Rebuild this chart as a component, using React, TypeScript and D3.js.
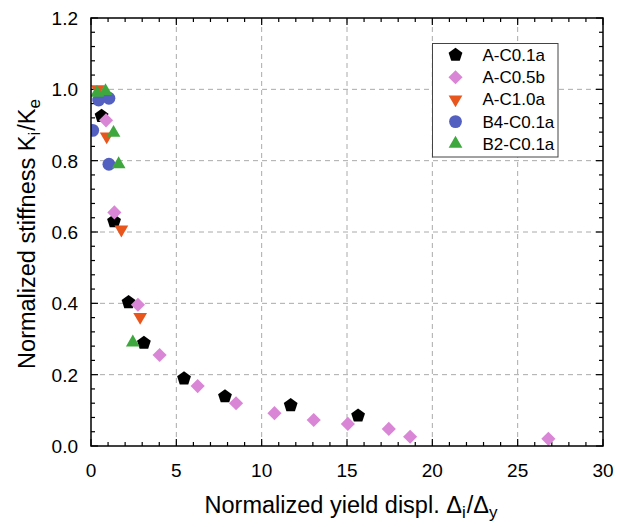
import { useMemo } from 'react';
import * as d3 from 'd3';

// Series values
const seriesNames = ['A-C0.1a', 'A-C0.5b', 'A-C1.0a', 'B4-C0.1a', 'B2-C0.1a'];

const aC01aX = [0.62, 1.35, 2.2, 3.1, 5.45, 7.85, 11.7, 15.65];
const aC01aY = [0.925, 0.63, 0.403, 0.289, 0.189, 0.139, 0.114, 0.085];

const aC05bX = [0.88, 1.37, 2.75, 4.02, 6.25, 8.5, 10.75, 13.05, 15.05, 17.45, 18.7, 26.8];
const aC05bY = [0.913, 0.655, 0.396, 0.255, 0.168, 0.12, 0.092, 0.073, 0.062, 0.048, 0.026, 0.02];

const aC10aX = [0.4, 0.92, 1.78, 2.88];
const aC10aY = [1.0, 0.868, 0.607, 0.362];

const b4C01aX = [0.1, 0.45, 1.05, 1.05];
const b4C01aY = [0.885, 0.97, 0.975, 0.79];

const b2C01aX = [0.35, 0.85, 1.32, 1.62, 2.45];
const b2C01aY = [0.99, 0.995, 0.878, 0.79, 0.29];

const xTicks = [0, 5, 10, 15, 20, 25, 30];
const yTicks = [0.0, 0.2, 0.4, 0.6, 0.8, 1.0, 1.2];

const W = 630;
const H = 527;
const margin = { top: 18, right: 27, bottom: 81, left: 91 };
const font = 'Arial, "Liberation Sans", Helvetica, sans-serif';

// custom marker shapes
const pentagon = {
  draw(ctx: any, size: number) {
    const r = Math.sqrt(size / 2.378);
    for (let i = 0; i < 5; i++) {
      const a = -Math.PI / 2 + (i * 2 * Math.PI) / 5;
      const px = r * Math.cos(a);
      const py = r * Math.sin(a);
      if (i === 0) ctx.moveTo(px, py);
      else ctx.lineTo(px, py);
    }
    ctx.closePath();
  },
};

const squareDiamond = {
  draw(ctx: any, size: number) {
    const r = Math.sqrt(size / 2);
    ctx.moveTo(0, -r);
    ctx.lineTo(r, 0);
    ctx.lineTo(0, r);
    ctx.lineTo(-r, 0);
    ctx.closePath();
  },
};

const triUp = {
  draw(ctx: any, size: number) {
    const s = Math.sqrt(size / 0.433);
    const h = (s * Math.sqrt(3)) / 2;
    ctx.moveTo(0, -h * 2 / 3);
    ctx.lineTo(s / 2, h / 3);
    ctx.lineTo(-s / 2, h / 3);
    ctx.closePath();
  },
};

const triDown = {
  draw(ctx: any, size: number) {
    const s = Math.sqrt(size / 0.433);
    const h = (s * Math.sqrt(3)) / 2;
    ctx.moveTo(0, h * 2 / 3);
    ctx.lineTo(s / 2, -h / 3);
    ctx.lineTo(-s / 2, -h / 3);
    ctx.closePath();
  },
};

const series = [
  { name: seriesNames[0], xs: aC01aX, ys: aC01aY, color: '#000000', type: pentagon, size: 125 },
  { name: seriesNames[1], xs: aC05bX, ys: aC05bY, color: '#DA86D6', type: squareDiamond, size: 100 },
  { name: seriesNames[2], xs: aC10aX, ys: aC10aY, color: '#E8561E', type: triDown, size: 82 },
  { name: seriesNames[3], xs: b4C01aX, ys: b4C01aY, color: '#5360BF', type: d3.symbolCircle, size: 130 },
  { name: seriesNames[4], xs: b2C01aX, ys: b2C01aY, color: '#3EA83E', type: triUp, size: 82 },
];

export default function App() {
  const iw = W - margin.left - margin.right;
  const ih = H - margin.top - margin.bottom;

  const x = useMemo(() => d3.scaleLinear().domain([0, 30]).range([0, iw]), [iw]);
  const y = useMemo(() => d3.scaleLinear().domain([0, 1.2]).range([ih, 0]), [ih]);

  const xMinor = d3.range(0, 31, 1);
  const yMinor = d3.range(0, 1.2001, 0.04);

  return (
    <div style={{ position: 'absolute', left: 0, top: 0 }}>
      <svg width={W} height={H} style={{ display: 'block', background: '#fff' }} fontFamily={font}>
        <defs>
          <clipPath id="plot-clip">
            <rect x={0} y={0} width={iw} height={ih} />
          </clipPath>
        </defs>
        <g transform={`translate(${margin.left},${margin.top})`}>
          {/* grid */}
          {xTicks.slice(1, -1).map((t) => (
            <line key={'gx' + t} x1={x(t)} x2={x(t)} y1={0} y2={ih}
              stroke="#aaaaaa" strokeWidth={1} strokeDasharray="5,4" />
          ))}
          {yTicks.slice(1, -1).map((t) => (
            <line key={'gy' + t} x1={0} x2={iw} y1={y(t)} y2={y(t)}
              stroke="#aaaaaa" strokeWidth={1} strokeDasharray="5,4" />
          ))}

          {/* ticks on all four sides, pointing inward */}
          {xMinor.map((t) => {
            const len = t % 5 === 0 ? 7 : 4;
            return (
              <g key={'xt' + t}>
                <line x1={x(t)} x2={x(t)} y1={ih} y2={ih - len} stroke="#000" strokeWidth={1.2} />
                <line x1={x(t)} x2={x(t)} y1={0} y2={len} stroke="#000" strokeWidth={1.2} />
              </g>
            );
          })}
          {yMinor.map((t, i) => {
            const len = i % 5 === 0 ? 7 : 4;
            return (
              <g key={'yt' + i}>
                <line x1={0} x2={len} y1={y(t)} y2={y(t)} stroke="#000" strokeWidth={1.2} />
                <line x1={iw} x2={iw - len} y1={y(t)} y2={y(t)} stroke="#000" strokeWidth={1.2} />
              </g>
            );
          })}

          {/* points */}
          <g clipPath="url(#plot-clip)">
            {series.map((s) => {
              const path = d3.symbol().type(s.type as any).size(s.size)();
              return (
                <g key={s.name}>
                  {s.xs.map((xv, i) => (
                    <path key={i} d={path || ''} fill={s.color}
                      transform={`translate(${x(xv)},${y(s.ys[i])})`} />
                  ))}
                </g>
              );
            })}
          </g>

          {/* frame */}
          <rect x={0} y={0} width={iw} height={ih} fill="none" stroke="#000" strokeWidth={1.5} />

          {/* tick labels */}
          {xTicks.map((t) => (
            <text key={'xl' + t} x={x(t)} y={ih + 31} textAnchor="middle" fontSize={19} fill="#000">
              {t}
            </text>
          ))}
          {yTicks.map((t) => (
            <text key={'yl' + t} x={-13} y={y(t) + 7} textAnchor="end" fontSize={19} fill="#000">
              {t.toFixed(1)}
            </text>
          ))}

          {/* axis titles */}
          <text x={iw / 2 + 4} y={ih + 67} textAnchor="middle" fontSize={23.5} fill="#000">
            Normalized yield displ. Δ
            <tspan fontSize={17} dy={5}>i</tspan>
            <tspan dy={-5} dx={1}>/Δ</tspan>
            <tspan fontSize={17} dy={5}>y</tspan>
          </text>
          <text transform={`translate(${-56},${ih / 2 + 2}) rotate(-90)`} textAnchor="middle" fontSize={23.5} fill="#000">
            Normalized stiffness K
            <tspan fontSize={17} dy={5}>i</tspan>
            <tspan dy={-5} dx={1}>/K</tspan>
            <tspan fontSize={17} dy={5}>e</tspan>
          </text>

          {/* legend */}
          <g transform={`translate(${432.5 - margin.left},${43.5 - margin.top})`}>
            <rect x={0} y={0} width={125.5} height={113.5} fill="#fff" stroke="#444" strokeWidth={1} />
            {series.map((s, i) => {
              const path = d3.symbol().type(s.type as any).size(s.size)();
              return (
                <g key={'lg' + s.name} transform={`translate(0,${11.5 + i * 22.2})`}>
                  <path d={path || ''} fill={s.color} transform="translate(23,0)" />
                  <text x={50} y={6} fontSize={17} fill="#000">{s.name}</text>
                </g>
              );
            })}
          </g>
        </g>
      </svg>
    </div>
  );
}
